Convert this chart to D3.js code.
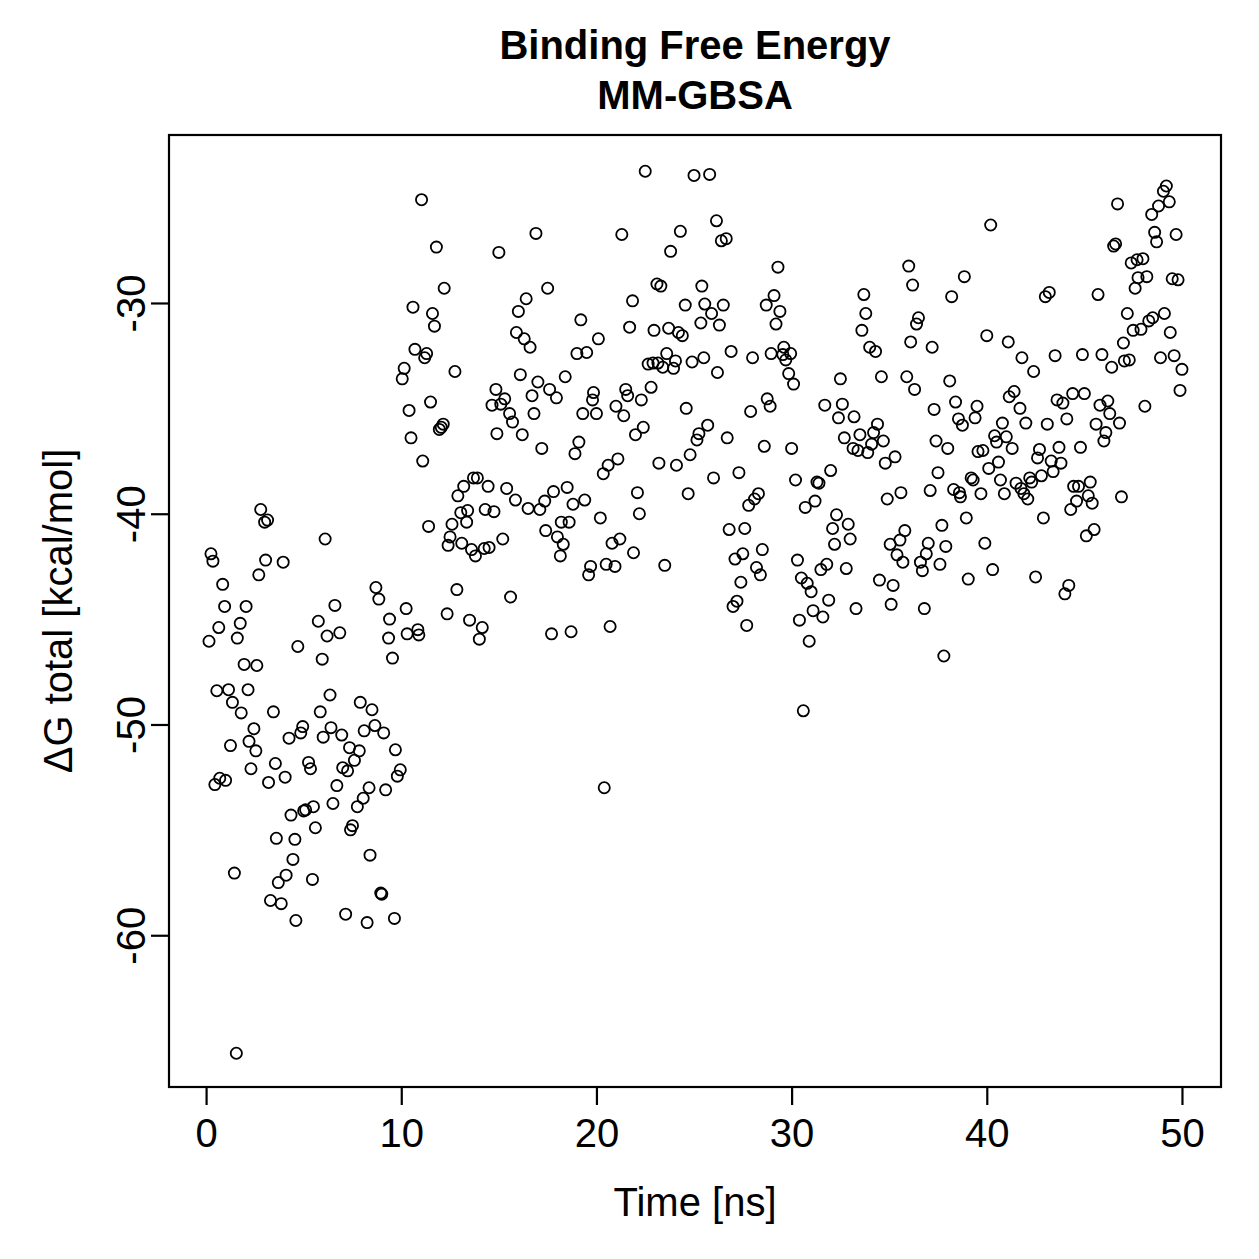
<!DOCTYPE html>
<html>
<head>
<meta charset="utf-8">
<script src="https://cdn.jsdelivr.net/npm/d3@7"></script>
<style>
  html, body { margin: 0; padding: 0; background: #fff; }
  svg { display: block; }
  text { font-family: "Liberation Sans", Arial, Helvetica, sans-serif; fill: #000; }
</style>
</head>
<body>
<svg id="chart" width="1259" height="1259"></svg>
<script>
// ---- Data: [time (ns), ΔG total (kcal/mol)] ----
const phase0to10 = [
  [0.15,-46.05],[0.25,-41.9],[0.35,-42.25],[0.45,-52.85],[0.55,-48.4],[0.65,-45.4],[0.7,-52.55],[0.85,-43.35],[0.95,-44.4],[1.0,-52.65],
  [1.15,-48.35],[1.25,-51.0],[1.35,-48.95],[1.45,-57.05],[1.55,-65.6],[1.6,-45.9],[1.75,-45.2],[1.8,-49.45],[1.95,-47.15],[2.05,-44.4],
  [2.15,-48.35],[2.2,-50.8],[2.3,-52.1],[2.45,-50.2],[2.55,-51.25],[2.6,-47.2],[2.7,-42.9],[2.8,-39.8],[3.0,-40.4],[3.05,-42.2],
  [3.15,-40.3],[3.2,-52.75],[3.3,-58.35],[3.45,-49.4],[3.55,-51.85],[3.6,-55.4],[3.7,-57.5],[3.85,-58.5],[3.95,-42.3],[4.05,-52.5],
  [4.1,-57.15],[4.25,-50.65],[4.35,-54.3],[4.45,-56.4],[4.55,-55.45],[4.6,-59.3],[4.7,-46.3],[4.85,-50.4],[4.95,-50.1],[5.0,-54.1],
  [5.1,-54.05],[5.25,-51.8],[5.35,-52.1],[5.45,-57.35],[5.5,-53.9],[5.6,-54.9],[5.75,-45.1],[5.85,-49.4],[5.95,-46.9],[6.0,-50.6],
  [6.1,-41.2],[6.2,-45.8],[6.35,-48.6],[6.4,-50.15],[6.5,-53.75],[6.6,-44.35],[6.7,-52.9],[6.85,-45.65],[6.95,-50.5],[7.0,-52.05],
  [7.15,-59.0],[7.25,-52.2],[7.35,-51.1],[7.4,-55.0],[7.5,-54.8],[7.6,-51.7],[7.75,-53.9],[7.85,-51.25],[7.9,-48.95],[8.05,-53.5],
  [8.1,-50.3],[8.25,-59.4],[8.35,-53.0],[8.4,-56.2],[8.5,-49.3],[8.65,-50.05],[8.7,-43.5],[8.85,-44.05],[8.95,-58.0],[9.0,-58.05],
  [9.1,-50.4],[9.2,-53.1],[9.35,-45.9],[9.4,-45.0],[9.55,-46.85],[9.65,-59.2],[9.7,-51.2],[9.8,-52.45],[9.95,-52.15]
];
const phase10to20 = [
  [10.05,-33.6],[10.15,-33.1],[10.25,-44.5],[10.3,-45.7],[10.4,-35.1],[10.5,-36.4],[10.6,-30.2],[10.7,-32.2],[10.85,-45.5],[10.9,-45.75],
  [11.04,-25.1],[11.1,-37.5],[11.2,-32.6],[11.3,-32.4],[11.4,-40.6],[11.5,-34.7],[11.6,-30.5],[11.7,-31.1],[11.8,-27.35],[11.95,-36.0],
  [12.05,-35.9],[12.15,-35.75],[12.2,-29.3],[12.35,-44.75],[12.4,-41.5],[12.5,-41.1],[12.6,-40.5],[12.75,-33.25],[12.85,-43.6],[12.9,-39.15],
  [13.05,-39.95],[13.1,-41.4],[13.2,-38.7],[13.35,-40.4],[13.4,-39.85],[13.5,-45.05],[13.6,-41.7],[13.7,-38.3],[13.8,-42.0],[13.9,-38.3],
  [14.0,-45.95],[14.15,-45.4],[14.25,-41.65],[14.3,-39.8],[14.45,-38.7],[14.5,-41.6],[14.65,-34.85],[14.75,-39.9],[14.85,-34.1],[14.9,-36.2],
  [15.0,-27.6],[15.1,-34.8],[15.2,-41.2],[15.3,-34.55],[15.4,-38.8],[15.55,-35.25],[15.6,-43.95],[15.7,-35.65],[15.85,-39.35],[15.9,-31.4],
  [16.0,-30.4],[16.1,-33.4],[16.2,-36.25],[16.3,-31.7],[16.4,-29.8],[16.5,-39.75],[16.6,-32.1],[16.7,-34.4],[16.8,-35.25],[16.9,-26.7],
  [17.0,-33.75],[17.1,-39.8],[17.2,-36.9],[17.35,-39.4],[17.4,-40.8],[17.5,-29.3],[17.6,-34.1],[17.7,-45.7],[17.8,-38.95],[17.95,-34.5],
  [18.0,-41.1],[18.15,-42.0],[18.2,-40.4],[18.3,-41.45],[18.4,-33.5],[18.5,-38.75],[18.6,-40.4],[18.7,-45.6],[18.8,-39.55],[18.9,-37.15],
  [19.0,-32.4],[19.1,-36.6],[19.2,-30.8],[19.3,-35.25],[19.4,-39.35],[19.5,-32.35],[19.6,-42.9],[19.7,-42.5],[19.8,-34.6],[19.85,-34.25],
  [20.0,-35.25]
];
const phase20to30 = [
  [20.1,-31.7],[20.2,-40.2],[20.35,-38.1],[20.4,-53.0],[20.5,-42.4],[20.6,-37.7],[20.7,-45.35],[20.8,-41.4],[20.95,-42.5],[21.0,-34.9],
  [21.1,-37.4],[21.2,-41.2],[21.3,-26.75],[21.4,-35.35],[21.5,-34.1],[21.6,-34.4],[21.7,-31.15],[21.85,-29.9],[21.9,-41.85],[22.0,-36.25],
  [22.1,-39.0],[22.2,-40.0],[22.3,-34.6],[22.4,-35.9],[22.5,-23.75],[22.65,-32.9],[22.8,-34.0],[22.9,-32.85],[22.95,-31.3],[23.1,-29.1],
  [23.15,-32.85],[23.2,-37.6],[23.3,-29.2],[23.4,-33.05],[23.5,-42.45],[23.6,-32.4],[23.7,-31.2],[23.8,-27.55],[23.95,-33.1],[24.05,-32.75],
  [24.1,-37.7],[24.2,-31.4],[24.3,-26.6],[24.4,-31.55],[24.55,-30.1],[24.6,-35.0],[24.7,-39.05],[24.8,-37.2],[24.9,-32.8],[25.0,-23.95],
  [25.15,-36.5],[25.25,-36.2],[25.35,-30.95],[25.4,-29.2],[25.5,-32.6],[25.55,-30.05],[25.7,-35.8],[25.8,-23.9],[25.9,-30.5],[26.0,-38.3],
  [26.15,-26.1],[26.2,-33.3],[26.3,-31.05],[26.4,-27.05],[26.5,-30.1],[26.65,-26.95],[26.7,-36.4],[26.8,-40.75],[26.9,-32.3],[27.0,-44.4],
  [27.1,-42.15],[27.2,-44.15],[27.3,-38.05],[27.4,-43.25],[27.5,-41.9],[27.6,-40.7],[27.7,-45.3],[27.8,-39.6],[27.9,-35.15],[28.0,-32.6],
  [28.1,-39.3],[28.2,-42.55],[28.3,-39.05],[28.4,-42.9],[28.5,-41.7],[28.6,-36.8],[28.7,-30.1],[28.75,-34.55],[28.9,-34.9],[28.95,-32.4],
  [29.1,-29.65],[29.2,-31.0],[29.3,-28.3],[29.4,-30.4],[29.55,-32.45],[29.6,-32.1],[29.7,-32.7],[29.85,-33.35],[29.95,-32.4],[30.0,-36.9]
];
const phase30to40 = [
  [30.1,-33.85],[30.2,-38.4],[30.3,-42.2],[30.4,-45.05],[30.5,-43.05],[30.6,-49.35],[30.7,-39.7],[30.8,-43.3],[30.9,-46.05],[31.0,-43.7],
  [31.1,-44.6],[31.2,-39.4],[31.3,-38.5],[31.4,-38.55],[31.5,-42.65],[31.6,-44.9],[31.7,-34.85],[31.8,-42.4],[31.9,-44.1],[32.0,-37.95],
  [32.1,-40.7],[32.2,-41.45],[32.3,-40.05],[32.4,-35.45],[32.5,-33.6],[32.6,-34.8],[32.7,-36.4],[32.8,-42.6],[32.9,-40.5],[33.0,-41.2],
  [33.15,-36.9],[33.2,-35.4],[33.3,-44.5],[33.4,-37.0],[33.5,-36.25],[33.6,-31.3],[33.7,-29.6],[33.8,-30.5],[33.9,-37.1],[34.0,-32.1],
  [34.1,-36.7],[34.2,-36.15],[34.3,-32.3],[34.4,-35.75],[34.5,-43.15],[34.6,-33.5],[34.7,-36.55],[34.8,-37.6],[34.9,-39.3],[35.05,-41.45],
  [35.1,-44.3],[35.2,-43.4],[35.3,-37.3],[35.4,-41.95],[35.55,-41.25],[35.6,-39.0],[35.7,-42.3],[35.8,-40.8],[35.9,-33.5],[36.0,-28.25],
  [36.1,-31.85],[36.2,-29.15],[36.3,-34.1],[36.4,-31.0],[36.5,-30.7],[36.6,-42.3],[36.7,-42.7],[36.8,-44.5],[36.9,-41.9],[37.0,-41.4],
  [37.1,-38.9],[37.2,-32.1],[37.3,-35.05],[37.4,-36.55],[37.5,-38.05],[37.6,-42.4],[37.7,-40.55],[37.8,-46.75],[37.9,-41.55],[38.0,-36.9],
  [38.1,-33.7],[38.2,-29.7],[38.3,-38.85],[38.4,-34.7],[38.55,-35.5],[38.6,-39.0],[38.65,-39.2],[38.75,-35.8],[38.85,-28.75],[38.95,-40.2],
  [39.05,-43.1],[39.2,-38.3],[39.3,-38.4],[39.4,-35.45],[39.5,-34.9],[39.55,-37.05],[39.7,-39.05],[39.8,-37.0],[39.9,-41.4],[40.0,-31.55]
];
const phase40to50 = [
  [40.1,-37.85],[40.2,-26.3],[40.3,-42.65],[40.4,-36.3],[40.5,-36.6],[40.6,-37.55],[40.7,-38.4],[40.8,-35.7],[40.9,-39.05],[41.0,-36.35],
  [41.1,-31.85],[41.15,-34.45],[41.3,-36.9],[41.4,-34.2],[41.5,-38.55],[41.7,-35.0],[41.75,-38.8],[41.8,-32.6],[41.9,-39.05],[42.0,-35.7],
  [42.1,-39.3],[42.2,-38.3],[42.3,-38.5],[42.4,-33.25],[42.5,-43.0],[42.6,-37.35],[42.7,-36.95],[42.8,-38.2],[42.9,-40.2],[43.0,-29.7],
  [43.1,-35.75],[43.2,-29.5],[43.3,-37.5],[43.4,-38.0],[43.5,-32.5],[43.6,-34.6],[43.7,-36.85],[43.8,-37.6],[43.9,-34.75],[44.0,-43.8],
  [44.1,-35.5],[44.2,-43.4],[44.3,-39.8],[44.4,-34.3],[44.45,-38.7],[44.6,-39.4],[44.7,-38.7],[44.8,-36.85],[44.9,-32.45],[45.0,-34.3],
  [45.1,-41.05],[45.2,-39.15],[45.3,-38.5],[45.4,-39.5],[45.5,-40.75],[45.6,-35.75],[45.7,-29.6],[45.8,-34.85],[45.9,-32.45],[46.0,-36.55],
  [46.1,-36.15],[46.2,-34.65],[46.3,-35.25],[46.4,-33.05],[46.5,-27.3],[46.6,-27.2],[46.7,-25.3],[46.8,-35.7],[46.9,-39.2],[47.0,-31.9],
  [47.05,-32.75],[47.2,-30.5],[47.3,-32.7],[47.4,-28.1],[47.5,-31.3],[47.6,-29.3],[47.7,-27.95],[47.75,-28.8],[47.9,-31.25],[48.0,-27.9],
  [48.1,-34.9],[48.2,-28.75],[48.3,-30.85],[48.45,-25.8],[48.5,-30.7],[48.6,-26.65],[48.7,-27.1],[48.8,-25.4],[48.9,-32.6],[49.05,-24.7],
  [49.1,-30.5],[49.2,-24.45],[49.35,-25.2],[49.4,-31.4],[49.5,-28.85],[49.6,-32.5],[49.7,-26.75],[49.8,-28.9],[49.9,-34.15],[50.0,-33.15]
];

const xTicks = [0, 10, 20, 30, 40, 50];
const yTicks = [-60, -50, -40, -30];
const titleLines = ["Binding Free Energy", "MM-GBSA"];
const xLabel = "Time [ns]";
const yLabel = "\u0394G total [kcal/mol]";

// ---- Layout ----
const box = { left: 169, right: 1221, top: 135, bottom: 1087 };
const FS = 40;
const FONT = '"Liberation Sans", Arial, Helvetica, sans-serif';

const svg = d3.select("#chart");

const x = d3.scaleLinear().domain([-1.9, 52.0]).range([box.left, box.right]);
const y = d3.scaleLinear().domain([-67.2, -22.03]).range([box.bottom, box.top]);

const allPoints = [].concat(phase0to10, phase10to20, phase20to30, phase30to40, phase40to50);

// points (open circles, R pch = 1)
svg.append("g")
  .selectAll("circle")
  .data(allPoints)
  .join("circle")
  .attr("cx", d => x(d[0]))
  .attr("cy", d => y(d[1]))
  .attr("r", 5.6)
  .attr("fill", "none")
  .attr("stroke", "#000")
  .attr("stroke-width", 1.8);

// plot box
svg.append("rect")
  .attr("x", box.left).attr("y", box.top)
  .attr("width", box.right - box.left).attr("height", box.bottom - box.top)
  .attr("fill", "none").attr("stroke", "#000").attr("stroke-width", 2.2);

// plain hyphen-minus labels like R
const plainFmt = d => String(d);

// x axis
const gx = svg.append("g")
  .attr("transform", `translate(0,${box.bottom})`)
  .call(d3.axisBottom(x).tickValues(xTicks).tickSize(18).tickPadding(14).tickFormat(plainFmt));
gx.select(".domain").remove();
gx.selectAll(".tick line").attr("stroke", "#000").attr("stroke-width", 2.2);
gx.selectAll(".tick text")
  .style("font-family", FONT)
  .attr("font-size", FS).attr("fill", "#000");

// y axis
const gy = svg.append("g")
  .attr("transform", `translate(${box.left},0)`)
  .call(d3.axisLeft(y).tickValues(yTicks).tickSize(18).tickFormat(plainFmt));
gy.select(".domain").remove();
gy.selectAll(".tick line").attr("stroke", "#000").attr("stroke-width", 2.2);
gy.selectAll(".tick text")
  .attr("x", null).attr("dy", null).attr("y", null)
  .attr("transform", "translate(-24,0) rotate(-90)")
  .attr("text-anchor", "middle")
  .style("font-family", FONT)
  .attr("font-size", FS).attr("fill", "#000");

// titles
const cx = (box.left + box.right) / 2;
svg.append("g").selectAll("text")
  .data(titleLines)
  .join("text")
  .attr("x", cx)
  .attr("y", (d, i) => 59 + i * 50)
  .attr("text-anchor", "middle")
  .attr("font-size", FS)
  .attr("font-weight", "bold")
  .text(d => d);

svg.append("text")
  .attr("x", cx).attr("y", 1216)
  .attr("text-anchor", "middle")
  .attr("font-size", FS)
  .text(xLabel);

svg.append("text")
  .attr("transform", `translate(72,${(box.top + box.bottom) / 2}) rotate(-90)`)
  .attr("text-anchor", "middle")
  .attr("font-size", FS)
  .text(yLabel);
</script>
</body>
</html>
